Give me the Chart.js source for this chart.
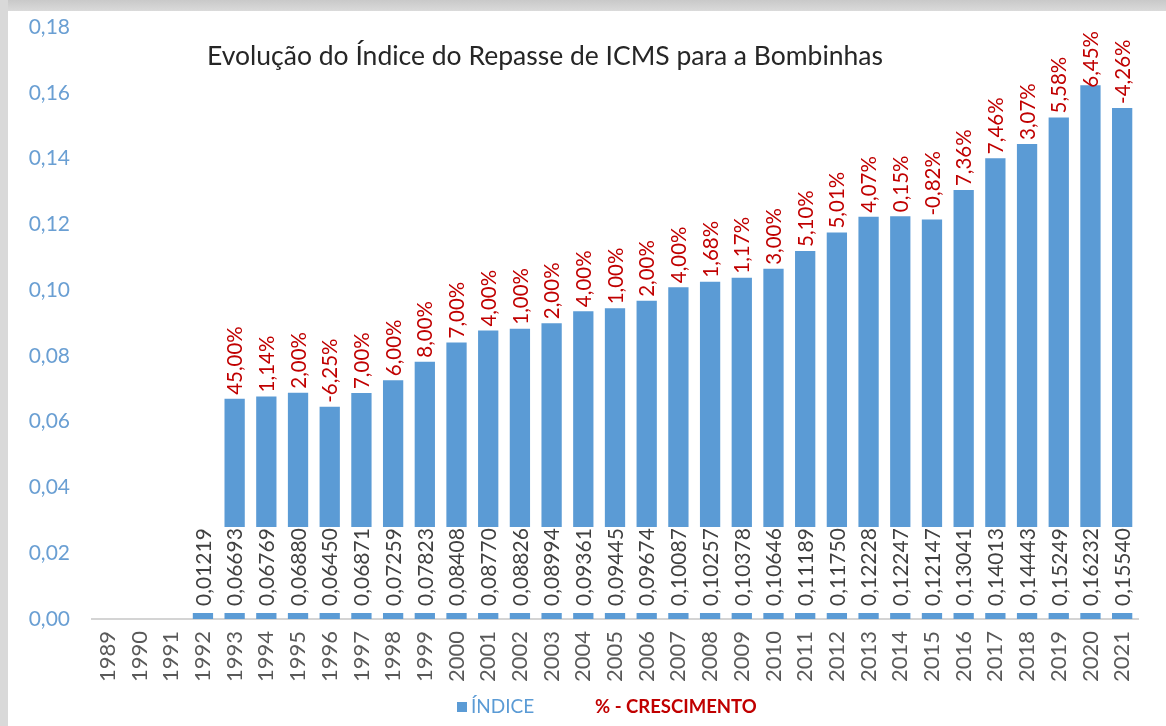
<!DOCTYPE html>
<html lang="pt-BR">
<head>
<meta charset="utf-8">
<title>Evolução do Índice do Repasse de ICMS para a Bombinhas</title>
<script src="https://cdn.jsdelivr.net/npm/chart.js@4.4.1/dist/chart.umd.min.js"></script>
<style>
  html, body { margin: 0; padding: 0; background: #fff; }
  #frame { position: relative; width: 1166px; height: 726px; overflow: hidden; background: #fff; }
  #topBand { position: absolute; left: 0; top: 0; width: 100%; height: 11px; background: linear-gradient(#c9c9c9, #dadada); }
  #leftBand { position: absolute; left: 0; top: 0; width: 8px; height: 100%; background: #d9d9d9; }
  #wrap { position: absolute; left: 0; top: 0; width: 1166px; height: 726px; }
</style>
</head>
<body>
<div id="frame">
  <div id="topBand"></div>
  <div id="leftBand"></div>
  <div id="wrap"><canvas id="icmsChart"></canvas></div>
</div>
<script>
const anos = ['1989', '1990', '1991', '1992', '1993', '1994', '1995', '1996', '1997', '1998',
  '1999', '2000', '2001', '2002', '2003', '2004', '2005', '2006', '2007', '2008', '2009',
  '2010', '2011', '2012', '2013', '2014', '2015', '2016', '2017', '2018', '2019', '2020', '2021'];

const indice = [null, null, null, 0.01219, 0.06693, 0.06769, 0.06880, 0.06450, 0.06871, 0.07259,
  0.07823, 0.08408, 0.08770, 0.08826, 0.08994, 0.09361, 0.09445, 0.09674, 0.10087, 0.10257,
  0.10378, 0.10646, 0.11189, 0.11750, 0.12228, 0.12247, 0.12147, 0.13041, 0.14013, 0.14443,
  0.15249, 0.16232, 0.15540];

const crescimento = [null, null, null, null, 45.00, 1.14, 2.00, -6.25, 7.00, 6.00,
  8.00, 7.00, 4.00, 1.00, 2.00, 4.00, 1.00, 2.00, 4.00, 1.68,
  1.17, 3.00, 5.10, 5.01, 4.07, 0.15, -0.82, 7.36, 7.46, 3.07,
  5.58, 6.45, -4.26];

const tituloGrafico = 'Evolução do Índice do Repasse de ICMS para a Bombinhas';
const legendaIndice = 'ÍNDICE';
const legendaCrescimento = '% - CRESCIMENTO';

const azul = '#5B9BD5';
const vermelho = '#C00000';

function virgula(v, casas) {
  return v.toFixed(casas).replace('.', ',');
}

Chart.defaults.font.family = 'Lato, "Open Sans", sans-serif';

// rótulos dos valores (caixa branca) e do crescimento (vermelho, acima da barra)
const rotulosPlugin = {
  id: 'rotulos',
  afterDatasetsDraw(chart) {
    const ctx = chart.ctx;
    const area = chart.chartArea;
    const meta = chart.getDatasetMeta(0);
    meta.data.forEach((bar, i) => {
      if (indice[i] == null) return;
      const boxTop = area.bottom - 92;
      const boxBottom = area.bottom - 6;
      ctx.save();
      ctx.fillStyle = '#fff';
      ctx.fillRect(bar.x - bar.width / 2 - 1, boxTop, bar.width + 2, boxBottom - boxTop);
      ctx.translate(bar.x, area.bottom - 13);
      ctx.rotate(-Math.PI / 2);
      ctx.font = '21px Lato';
      ctx.fillStyle = '#404040';
      ctx.textAlign = 'left';
      ctx.textBaseline = 'middle';
      ctx.fillText(virgula(indice[i], 5), 0, 1);
      ctx.restore();

      if (crescimento[i] == null) return;
      const txt = virgula(crescimento[i], 2) + '%';
      ctx.save();
      ctx.font = '20.5px Lato';
      const w = ctx.measureText(txt).width;
      let start = bar.y - 4;
      const limite = area.top + 4;
      if (start - w < limite) start = limite + w;
      ctx.translate(bar.x, start);
      ctx.rotate(-Math.PI / 2);
      ctx.fillStyle = vermelho;
      ctx.textAlign = 'left';
      ctx.textBaseline = 'middle';
      ctx.fillText(txt, 0, 1);
      ctx.restore();
    });
  }
};

// título dentro da área do gráfico e legenda no rodapé
const tituloLegendaPlugin = {
  id: 'tituloLegenda',
  afterDraw(chart) {
    const ctx = chart.ctx;
    ctx.save();
    ctx.font = '26.5px Lato';
    ctx.fillStyle = '#262626';
    ctx.textAlign = 'center';
    ctx.textBaseline = 'middle';
    ctx.fillText(tituloGrafico, 545, 56);

    ctx.fillStyle = azul;
    ctx.fillRect(457, 702, 10, 10);
    ctx.font = '19px Lato';
    ctx.textAlign = 'left';
    ctx.fillText(legendaIndice, 471, 707);

    ctx.font = 'bold 18.5px Lato';
    ctx.fillStyle = vermelho;
    ctx.fillText(legendaCrescimento, 595, 707);
    ctx.restore();
  }
};

new Chart(document.getElementById('icmsChart'), {
  type: 'bar',
  data: {
    labels: anos,
    datasets: [{
      label: legendaIndice,
      data: indice,
      backgroundColor: azul,
      borderWidth: 0,
      categoryPercentage: 1,
      barPercentage: 0.64
    }]
  },
  options: {
    responsive: true,
    maintainAspectRatio: false,
    animation: false,
    layout: { padding: { top: 27, right: 28, left: 0, bottom: 0 } },
    plugins: {
      legend: { display: false },
      title: { display: false },
      tooltip: { enabled: false }
    },
    scales: {
      x: {
        grid: { display: false, drawTicks: false },
        border: { display: true, color: '#D4D4D4', width: 2 },
        ticks: {
          color: '#595959',
          font: { size: 22 },
          minRotation: 90,
          maxRotation: 90,
          autoSkip: false,
          padding: 12
        },
        afterFit(scale) {
          scale.height = 107;
          scale.paddingTop = 0;
        }
      },
      y: {
        min: 0,
        max: 0.18,
        grid: { display: false, drawTicks: false },
        border: { display: false },
        ticks: {
          stepSize: 0.02,
          color: '#6A9FD3',
          font: { size: 21 },
          padding: 22,
          callback: v => virgula(v, 2)
        },
        afterFit(scale) {
          scale.width = 92;
          scale.paddingTop = 0;
          scale.paddingBottom = 0;
        }
      }
    }
  },
  plugins: [rotulosPlugin, tituloLegendaPlugin]
});
</script>
</body>
</html>
